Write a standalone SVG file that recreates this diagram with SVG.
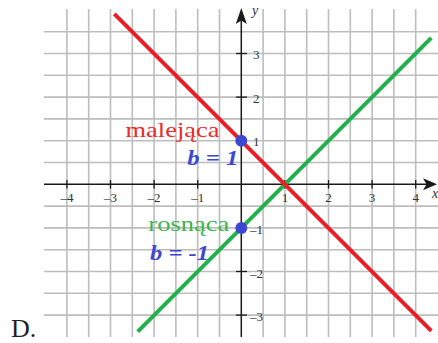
<svg xmlns="http://www.w3.org/2000/svg" width="438" height="343" viewBox="0 0 438 343">
<style>
.grid line{stroke:#bdbdbd;stroke-width:1.6}
.axis{stroke:#1a1a1a;stroke-width:1.5;fill:none}
.tick{stroke:#1a1a1a;stroke-width:1.3}
text{font-family:'Liberation Serif','DejaVu Serif','Times New Roman',serif}
.lbl{font-size:13px;fill:#333}
.big{font-size:22px}
.bi{font-size:22px;font-weight:bold;font-style:italic;fill:#3c48d2}
</style>
<rect width="438" height="343" fill="#fff"/>
<g id="grid" class="grid">
<line x1="66.9" y1="9" x2="66.9" y2="337"/>
<line x1="88.7" y1="9" x2="88.7" y2="337"/>
<line x1="110.5" y1="9" x2="110.5" y2="337"/>
<line x1="132.3" y1="9" x2="132.3" y2="337"/>
<line x1="154.1" y1="9" x2="154.1" y2="337"/>
<line x1="175.9" y1="9" x2="175.9" y2="337"/>
<line x1="197.7" y1="9" x2="197.7" y2="337"/>
<line x1="219.5" y1="9" x2="219.5" y2="337"/>
<line x1="263.1" y1="9" x2="263.1" y2="337"/>
<line x1="284.9" y1="9" x2="284.9" y2="337"/>
<line x1="306.7" y1="9" x2="306.7" y2="337"/>
<line x1="328.5" y1="9" x2="328.5" y2="337"/>
<line x1="350.3" y1="9" x2="350.3" y2="337"/>
<line x1="372.1" y1="9" x2="372.1" y2="337"/>
<line x1="393.9" y1="9" x2="393.9" y2="337"/>
<line x1="415.7" y1="9" x2="415.7" y2="337"/>
<line x1="44" y1="31.7" x2="438" y2="31.7"/>
<line x1="44" y1="53.5" x2="438" y2="53.5"/>
<line x1="44" y1="75.3" x2="438" y2="75.3"/>
<line x1="44" y1="97.1" x2="438" y2="97.1"/>
<line x1="44" y1="118.9" x2="438" y2="118.9"/>
<line x1="44" y1="140.7" x2="438" y2="140.7"/>
<line x1="44" y1="162.5" x2="438" y2="162.5"/>
<line x1="44" y1="206.1" x2="438" y2="206.1"/>
<line x1="44" y1="227.9" x2="438" y2="227.9"/>
<line x1="44" y1="249.7" x2="438" y2="249.7"/>
<line x1="44" y1="271.5" x2="438" y2="271.5"/>
<line x1="44" y1="293.3" x2="438" y2="293.3"/>
<line x1="44" y1="315.1" x2="438" y2="315.1"/>
</g>
<g id="axes">
<line class="axis" x1="44" y1="184.3" x2="428" y2="184.3"/>
<line class="axis" x1="241.3" y1="337" x2="241.3" y2="18"/>
<polygon points="437,184.3 423,178.3 426.5,184.3 423,190.3" fill="#1a1a1a"/>
<polygon points="241.3,8 235.8,24 241.3,20.5 246.8,24" fill="#1a1a1a"/>
<g class="tick">
<line x1="66.9" y1="180" x2="66.9" y2="188.6"/>
<line x1="110.5" y1="180" x2="110.5" y2="188.6"/>
<line x1="154.1" y1="180" x2="154.1" y2="188.6"/>
<line x1="197.7" y1="180" x2="197.7" y2="188.6"/>
<line x1="284.9" y1="180" x2="284.9" y2="188.6"/>
<line x1="328.5" y1="180" x2="328.5" y2="188.6"/>
<line x1="372.1" y1="180" x2="372.1" y2="188.6"/>
<line x1="415.7" y1="180" x2="415.7" y2="188.6"/>
<line x1="236" y1="53.5" x2="247" y2="53.5"/>
<line x1="236" y1="97.1" x2="247" y2="97.1"/>
<line x1="236" y1="140.7" x2="247" y2="140.7"/>
<line x1="236" y1="227.9" x2="247" y2="227.9"/>
<line x1="236" y1="271.5" x2="247" y2="271.5"/>
<line x1="236" y1="315.1" x2="247" y2="315.1"/>
</g>
<g class="lbl" text-anchor="middle">
<text x="66.9" y="201.5">–4</text>
<text x="110.5" y="201.5">–3</text>
<text x="154.1" y="201.5">–2</text>
<text x="197.7" y="201.5">–1</text>
<text x="284.9" y="201.5">1</text>
<text x="328.5" y="201.5">2</text>
<text x="372.1" y="201.5">3</text>
<text x="415.7" y="201.5">4</text>
</g>
<g class="lbl">
<text x="253" y="59">3</text>
<text x="253" y="102.6">2</text>
<text x="253" y="146.2">1</text>
<text x="250" y="233.9">–1</text>
<text x="250" y="277.5">–2</text>
<text x="250" y="321.1">–3</text>
<text x="252" y="15" font-size="14" font-style="italic">y</text>
<text x="432" y="198" font-size="14" font-style="italic">x</text>
</g>
</g>
<g id="lines">
<line id="rosnaca-line" x1="137.7" y1="331.6" x2="431.3" y2="37.8" stroke="#22b04b" stroke-width="4"/>
<line id="malejaca-line" x1="114.3" y1="13.8" x2="431.3" y2="330.8" stroke="#ed1c24" stroke-width="4"/>
</g>
<g id="points">
<circle cx="241.3" cy="140.7" r="6" fill="#3c48d2"/>
<circle cx="241.3" cy="227.9" r="6" fill="#3c48d2"/>
</g>
<g id="labels">
<text class="big" x="125.5" y="136.7" fill="#ee2a2a" textLength="94" lengthAdjust="spacingAndGlyphs">malejąca</text>
<text class="bi" x="187.3" y="165" textLength="51" lengthAdjust="spacingAndGlyphs">b = 1</text>
<text class="big" x="148.3" y="230.7" fill="#3cb54c" textLength="81" lengthAdjust="spacingAndGlyphs">rosnąca</text>
<text class="bi" x="150" y="260" textLength="59" lengthAdjust="spacingAndGlyphs">b = -1</text>
<text x="11" y="337.3" font-size="26" fill="#231f20">D.</text>
</g>
</svg>
